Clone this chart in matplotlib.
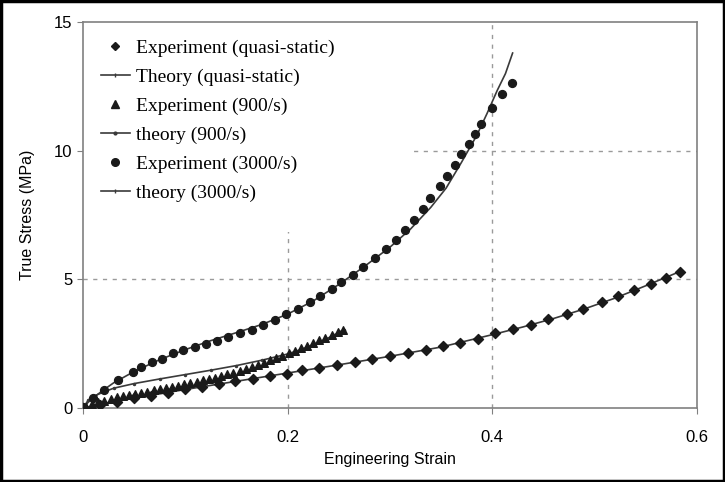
import matplotlib
matplotlib.use("Agg")
import matplotlib.pyplot as plt
from matplotlib.lines import Line2D
from matplotlib.patches import Rectangle

# quasi-static experiment (diamonds)
qs_strain = [0.0, 0.017, 0.033, 0.050, 0.066, 0.083, 0.100, 0.116, 0.133, 0.149,
             0.166, 0.183, 0.199, 0.2145, 0.231, 0.248, 0.266, 0.283, 0.300, 0.318,
             0.335, 0.352, 0.369, 0.386, 0.403, 0.420, 0.4375, 0.455, 0.473, 0.489,
             0.507, 0.523, 0.539, 0.555, 0.570, 0.584]
qs_stress = [0.0, 0.13, 0.25, 0.37, 0.48, 0.60, 0.72, 0.83, 0.94, 1.04,
             1.14, 1.25, 1.34, 1.47, 1.56, 1.66, 1.80, 1.90, 2.02, 2.14,
             2.27, 2.40, 2.53, 2.70, 2.90, 3.06, 3.22, 3.45, 3.64, 3.84,
             4.11, 4.34, 4.57, 4.81, 5.04, 5.27]
# quasi-static theory
qs_th_strain = [0.0, 0.02, 0.05, 0.10, 0.15, 0.20, 0.25, 0.30, 0.35, 0.40,
                0.43, 0.46, 0.49, 0.52, 0.55, 0.585]
qs_th_stress = [0.0, 0.17, 0.38, 0.72, 1.04, 1.36, 1.68, 2.01, 2.37, 2.85,
                3.15, 3.48, 3.85, 4.27, 4.75, 5.33]

# 900/s experiment (triangles)
r900_strain = [0.003, 0.009, 0.015, 0.021, 0.027, 0.033, 0.039, 0.045, 0.051, 0.057,
               0.063, 0.069, 0.075, 0.081, 0.087, 0.093, 0.099, 0.105, 0.111, 0.117,
               0.123, 0.129, 0.135, 0.141, 0.147, 0.153, 0.159, 0.165, 0.171, 0.177,
               0.183, 0.189, 0.195, 0.201, 0.207, 0.213, 0.219, 0.225, 0.231, 0.237,
               0.243, 0.249, 0.254]
r900_stress = [0.05, 0.14, 0.22, 0.29, 0.36, 0.41, 0.46, 0.51, 0.55, 0.60,
               0.64, 0.69, 0.73, 0.78, 0.83, 0.87, 0.92, 0.97, 1.02, 1.07,
               1.12, 1.18, 1.24, 1.31, 1.37, 1.44, 1.52, 1.60, 1.68, 1.76,
               1.85, 1.94, 2.03, 2.13, 2.23, 2.33, 2.43, 2.53, 2.63, 2.73,
               2.84, 2.95, 3.05]
# 900/s theory
r900_th_strain = [0.0, 0.005, 0.01, 0.02, 0.03, 0.05, 0.075, 0.10, 0.125, 0.15,
                  0.175, 0.20, 0.215, 0.23, 0.245, 0.255]
r900_th_stress = [0.0, 0.30, 0.45, 0.62, 0.77, 0.95, 1.13, 1.30, 1.47, 1.65,
                  1.86, 2.10, 2.30, 2.55, 2.82, 3.05]

# 3000/s experiment (circles)
r3000_strain = [0.0, 0.010, 0.021, 0.034, 0.049, 0.057, 0.067, 0.077, 0.088, 0.098,
                0.109, 0.120, 0.131, 0.142, 0.153, 0.165, 0.176, 0.1875, 0.198, 0.210,
                0.222, 0.232, 0.243, 0.2526, 0.264, 0.274, 0.285, 0.296, 0.306, 0.3145,
                0.3235, 0.332, 0.339, 0.3486, 0.356, 0.364, 0.370, 0.377, 0.383, 0.389,
                0.400, 0.410, 0.419]
r3000_stress = [0.04, 0.39, 0.70, 1.09, 1.41, 1.60, 1.80, 1.92, 2.12, 2.25,
                2.38, 2.47, 2.61, 2.76, 2.92, 3.05, 3.22, 3.41, 3.67, 3.86,
                4.12, 4.35, 4.62, 4.90, 5.18, 5.50, 5.83, 6.19, 6.54, 6.93,
                7.31, 7.74, 8.15, 8.62, 9.03, 9.44, 9.87, 10.28, 10.65, 11.03,
                11.67, 12.20, 12.64]
# 3000/s theory
r3000_th_strain = [0.0, 0.005, 0.01, 0.02, 0.03, 0.05, 0.075, 0.10, 0.125, 0.15,
                   0.175, 0.20, 0.225, 0.25, 0.275, 0.30, 0.32, 0.34, 0.355, 0.37,
                   0.385, 0.395, 0.405, 0.413, 0.42]
r3000_th_stress = [0.0, 0.22, 0.40, 0.70, 0.98, 1.42, 1.88, 2.27, 2.62, 2.93,
                   3.25, 3.65, 4.16, 4.80, 5.50, 6.25, 6.95, 7.80, 8.55, 9.55,
                   10.60, 11.45, 12.35, 13.00, 13.80]

legend_labels = ["Experiment (quasi-static)", "Theory (quasi-static)",
                 "Experiment (900/s)", "theory (900/s)",
                 "Experiment (3000/s)", "theory (3000/s)"]

fig = plt.figure(figsize=(7.25, 4.82), dpi=100)
ax = fig.add_axes([0.1145, 0.1535, 0.8465, 0.8005])

mk = "#1a1a1a"
ln = "#3a3a3a"

ax.plot(qs_th_strain, qs_th_stress, color=ln, lw=1.2, zorder=3)
ax.plot(r900_th_strain, r900_th_stress, color=ln, lw=1.2, marker=".", ms=3, zorder=3)
ax.plot(r3000_th_strain, r3000_th_stress, color=ln, lw=1.2, zorder=3)

ax.scatter(qs_strain, qs_stress, marker="D", s=26, color=mk, zorder=4)
ax.scatter(r900_strain, r900_stress, marker="^", s=30, color=mk, zorder=4)
ax.scatter(r3000_strain, r3000_stress, marker="o", s=32, color=mk, zorder=4)

ax.set_xlim(0, 0.6)
ax.set_ylim(0, 15)
ax.set_xticks([0, 0.2, 0.4, 0.6])
ax.set_xticklabels(["0", "0.2", "0.4", "0.6"])
ax.set_yticks([0, 5, 10, 15])

for v in [0.2, 0.4]:
    ax.axvline(v, color="#9a9a9a", lw=1, ls=(0, (3, 4)), zorder=1)
for v in [5, 10]:
    ax.axhline(v, color="#9a9a9a", lw=1, ls=(0, (3, 4)), zorder=1)

# white legend area hiding the gridlines, like the original
ax.add_patch(Rectangle((0, 0.456), 0.533, 0.544, transform=ax.transAxes,
                       facecolor="white", edgecolor="none", zorder=2))

for s in ax.spines.values():
    s.set_color("#808080")
    s.set_linewidth(1.2)
ax.tick_params(direction="out", length=4, color="#808080", labelsize=12)
ax.tick_params(axis="x", pad=12)
for lab in ax.get_xticklabels() + ax.get_yticklabels():
    lab.set_family("Liberation Sans")

ax.set_xlabel("Engineering Strain", fontsize=11.5, family="Liberation Sans", labelpad=5)
ax.set_ylabel("True Stress (MPa)", fontsize=11.5, family="Liberation Sans", labelpad=14)

handles = [
    Line2D([], [], ls="none", marker="D", ms=4.5, color=mk),
    Line2D([], [], color=ln, lw=1.2, marker="|", ms=3),
    Line2D([], [], ls="none", marker="^", ms=5.5, color=mk),
    Line2D([], [], color=ln, lw=1.2, marker=".", ms=4),
    Line2D([], [], ls="none", marker="o", ms=5.5, color=mk),
    Line2D([], [], color=ln, lw=1.2, marker="|", ms=3),
]
leg = ax.legend(handles, legend_labels, loc="upper left", bbox_to_anchor=(0.0, 1.0),
                frameon=False, handlelength=1.5, handletextpad=0.3, labelspacing=0.58,
                prop={"family": "Liberation Serif", "size": 14})
leg.set_zorder(5)

fig.add_artist(Rectangle((0.002, 0.003), 0.996, 0.994, transform=fig.transFigure,
                         fill=False, edgecolor="black", lw=2.5))

fig.savefig("out.png", dpi=100)
